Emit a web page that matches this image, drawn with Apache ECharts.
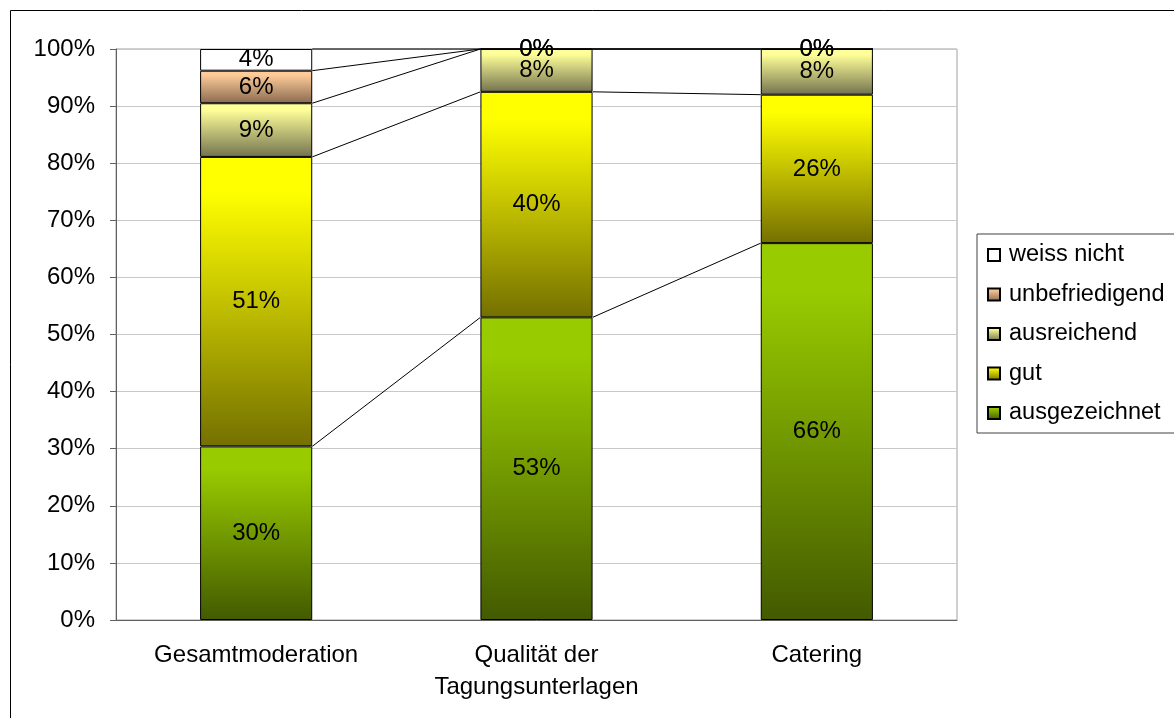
<!DOCTYPE html>
<html>
<head>
<meta charset="utf-8">
<script src="https://cdn.jsdelivr.net/npm/echarts@6/dist/echarts.min.js"></script>
<style>
  html, body { margin: 0; padding: 0; background: #fff; }
  #chart { width: 1174px; height: 718px; }
</style>
</head>
<body>
<div id="chart"></div>
<script>
const categories = ["Gesamtmoderation", "Qualität der\nTagungsunterlagen", "Catering"];
// values in %, bottom to top
const ausgezeichnet = [30.4, 53.0, 66.0];
const gut = [50.7, 39.5, 26.0];
const ausreichend = [9.4, 7.5, 8.0];
const unbefriedigend = [5.7, 0, 0];
const weissNicht = [3.8, 0, 0];
const yTicks = [0, 100, 10];

const seriesList = [
  { name: "ausgezeichnet", data: ausgezeichnet, top: "#99cc00", bottom: "#435a00" },
  { name: "gut", data: gut, top: "#ffff00", bottom: "#747000" },
  { name: "ausreichend", data: ausreichend, top: "#ffff99", bottom: "#737350" },
  { name: "unbefriedigend", data: unbefriedigend, top: "#ffcc99", bottom: "#8a6a52" },
  { name: "weiss nicht", data: weissNicht, top: "#ffffff", bottom: "#ffffff" },
];

// cumulative tops for the series lines
const cum = categories.map((c, i) => {
  let s = 0;
  return seriesList.map((ser) => (s += ser.data[i]));
});

const font = "'Liberation Sans', Arial, sans-serif";
const myChart = echarts.init(document.getElementById("chart"));

const option = {
  animation: false,
  textStyle: { fontFamily: font },
  grid: {
    left: 116,
    right: 217,
    top: 49,
    bottom: 98,
    show: true,
    borderColor: "#a0a0a0",
    borderWidth: 1,
  },
  graphic: [
    {
      type: "rect",
      shape: { x: 10.5, y: 10.5, width: 1200, height: 800 },
      style: { fill: null, stroke: "#000", lineWidth: 1 },
      silent: true,
    },
  ],
  legend: {
    orient: "vertical",
    left: 977,
    top: 234,
    data: ["weiss nicht", "unbefriedigend", "ausreichend", "gut", "ausgezeichnet"],
    icon: "rect",
    itemWidth: 12,
    itemHeight: 12,
    itemGap: 15.5,
    padding: [9, 12, 8, 10],
    borderColor: "#404040",
    borderWidth: 1,
    textStyle: { fontSize: 23.5, color: "#000", fontFamily: font, padding: [0, 0, 0, 4] },
  },
  xAxis: {
    type: "category",
    data: categories,
    axisLine: { lineStyle: { color: "#606060", width: 1 } },
    axisTick: { length: 6, lineStyle: { color: "#606060" } },
    axisLabel: { fontSize: 24, color: "#000", margin: 19, lineHeight: 32, fontFamily: font },
  },
  yAxis: {
    type: "value",
    min: yTicks[0],
    max: yTicks[1],
    interval: yTicks[2],
    axisLine: { show: true, lineStyle: { color: "#606060", width: 1 } },
    axisTick: { show: true, length: 6, lineStyle: { color: "#606060" } },
    axisLabel: { fontSize: 24, color: "#000", formatter: "{value}%", margin: 21, fontFamily: font },
    splitLine: { lineStyle: { color: "#c8c8c8" } },
  },
  series: seriesList
    .map((s) => ({
      name: s.name,
      type: "bar",
      stack: "total",
      barCategoryGap: "60%",
      data: s.data,
      itemStyle: {
        borderColor: "#000",
        borderWidth: 1,
        color: new echarts.graphic.LinearGradient(0, 0, 0, 1, [
          { offset: 0, color: s.top },
          { offset: 0.12, color: s.top },
          { offset: 1, color: s.bottom },
        ]),
      },
      label: {
        show: true,
        position: "inside",
        fontSize: 24,
        color: "#000",
        fontFamily: font,
        formatter: (p) => Math.round(p.value) + "%",
      },
      emphasis: { disabled: true },
    }))
    .concat([
      {
        // series lines between the stacked bars
        type: "custom",
        silent: true,
        z: 1,
        data: [[0, 0], [1, 0]],
        renderItem: (params, api) => {
          const i = api.value(0);
          const halfW = api.size([1, 0])[0] * 0.2;
          const children = cum[i].map((v, k) => {
            const p1 = api.coord([i, v]);
            const p2 = api.coord([i + 1, cum[i + 1][k]]);
            return {
              type: "line",
              shape: { x1: p1[0] + halfW, y1: p1[1], x2: p2[0] - halfW, y2: p2[1] },
              style: { stroke: "#000", lineWidth: 1 },
            };
          });
          return { type: "group", children: children };
        },
      },
    ]),
};

myChart.setOption(option);
</script>
</body>
</html>
